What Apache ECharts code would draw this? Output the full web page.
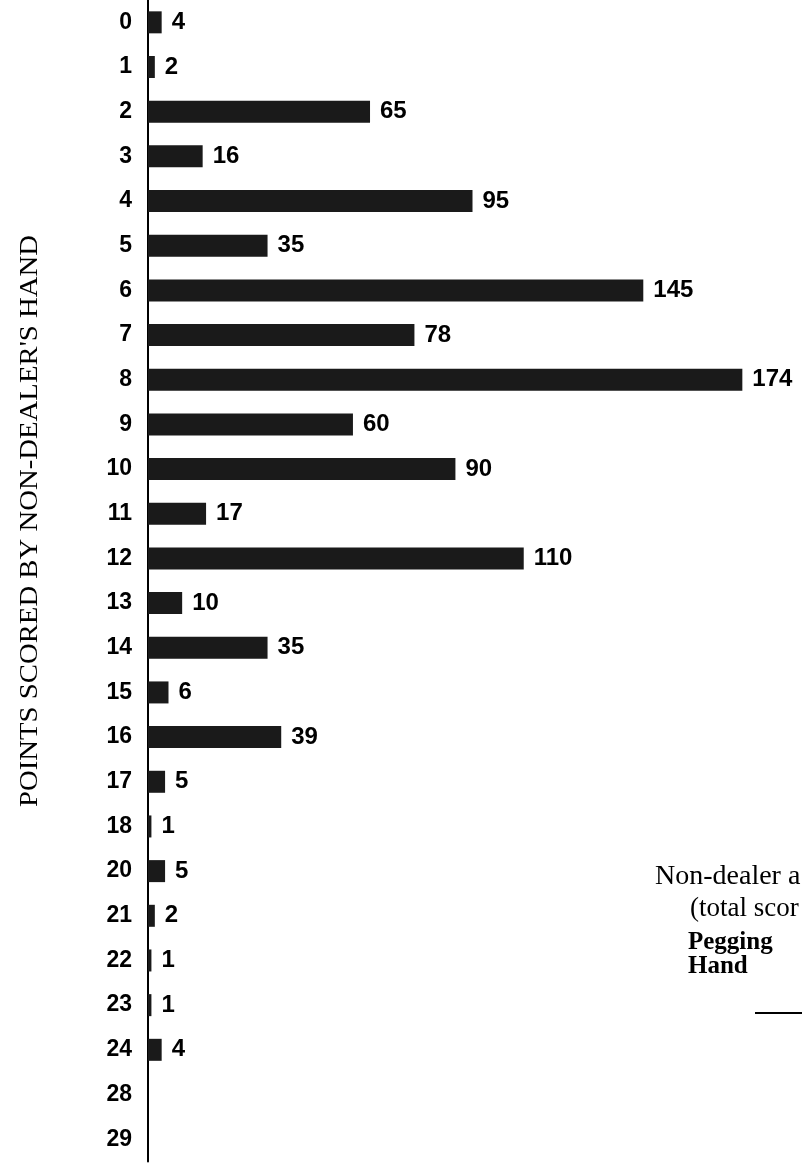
<!DOCTYPE html>
<html>
<head>
<meta charset="utf-8">
<script src="https://cdn.jsdelivr.net/npm/echarts@6/dist/echarts.min.js"></script>
<style>html,body{margin:0;padding:0;background:#fff;}#c{width:802px;height:1167px;}</style>
</head>
<body>
<div id="c"></div>
<script>
const categories = ['0','1','2','3','4','5','6','7','8','9','10','11','12','13','14','15','16','17','18','20','21','22','23','24','28','29'];
const counts = [4,2,65,16,95,35,145,78,174,60,90,17,110,10,35,6,39,5,1,5,2,1,1,4,null,null];
const axisTitle = "POINTS SCORED BY NON-DEALER'S HAND";
const noteLines = ['Non-dealer a', '(total scor', 'Pegging', 'Hand'];

// stretch the rotated title to the reference's long, wide lettering
const titleFont = '26px "Liberation Serif", serif';
const mctx = document.createElement('canvas').getContext('2d');
mctx.font = titleFont;
const titleStretch = 572 / mctx.measureText(axisTitle).width;

const chart = echarts.init(document.getElementById('c'), null, {renderer: 'canvas'});
chart.setOption({
  backgroundColor: '#ffffff',
  animation: false,
  grid: {left: 148, right: 5, top: -8.5, bottom: 5.5, containLabel: false},
  xAxis: {type: 'value', min: 0, max: 190, show: false, splitLine: {show: false}},
  yAxis: {
    type: 'category', data: categories, inverse: true,
    axisLine: {show: true, lineStyle: {color: '#000', width: 2}},
    axisTick: {show: false},
    axisLabel: {color: '#000', fontFamily: 'Liberation Sans, Arial', fontWeight: 'bold', fontSize: 23, margin: 16}
  },
  series: [{
    type: 'bar', data: counts, barWidth: 22,
    itemStyle: {color: '#1a1a1a'},
    label: {show: true, position: 'right', distance: 10, color: '#000',
      fontFamily: 'Liberation Sans, Arial', fontWeight: 'bold', fontSize: 24}
  }],
  graphic: [
    {type: 'text', x: 30, y: 521, rotation: Math.PI / 2, scaleX: titleStretch,
      style: {text: axisTitle, fill: '#000', font: titleFont, align: 'center', verticalAlign: 'middle'}},
    {type: 'text', x: 655, y: 863, style: {text: noteLines[0], fill: '#000', font: '28px "Liberation Serif", serif', verticalAlign: 'top'}},
    {type: 'text', x: 690, y: 895, style: {text: noteLines[1], fill: '#000', font: '27px "Liberation Serif", serif', verticalAlign: 'top'}},
    {type: 'text', x: 688, y: 930, style: {text: noteLines[2], fill: '#000', font: 'bold 25px "Liberation Serif", serif', verticalAlign: 'top'}},
    {type: 'text', x: 688, y: 954, style: {text: noteLines[3], fill: '#000', font: 'bold 25px "Liberation Serif", serif', verticalAlign: 'top'}},
    {type: 'line', shape: {x1: 755, y1: 1013, x2: 802, y2: 1013}, style: {stroke: '#000', lineWidth: 2}}
  ]
});
</script>
</body>
</html>
